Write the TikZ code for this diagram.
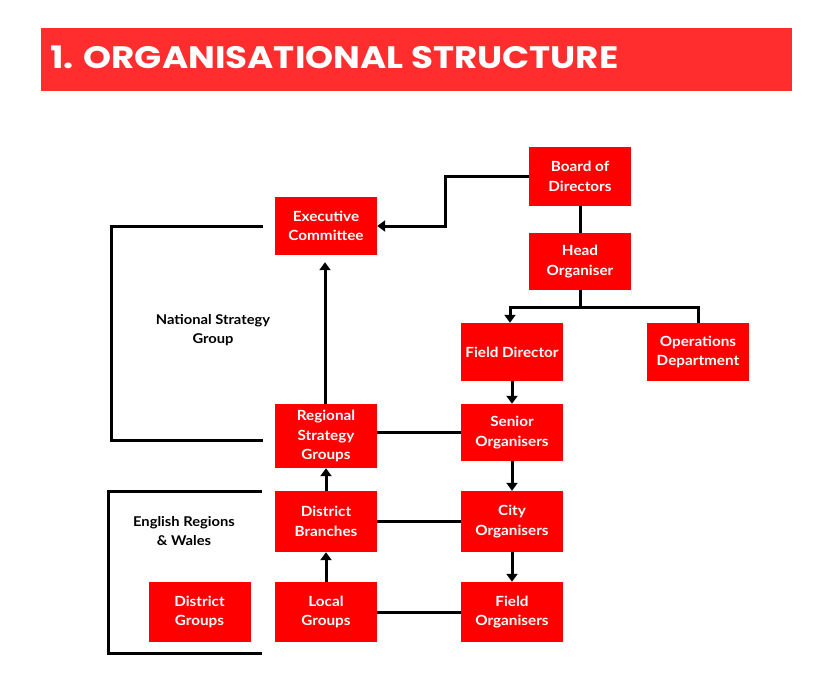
\documentclass[tikz,border=0pt]{standalone}
\usepackage{fontspec}
\setmainfont{Lato}[FakeStretch=1.09]
\newfontfamily\titlefont{Poppins}[FakeStretch=1.15]
\usetikzlibrary{arrows.meta}
\definecolor{banner}{RGB}{255,45,45}
\definecolor{boxred}{RGB}{255,0,0}
\tikzset{
  box/.style={fill=boxred, draw=none, minimum width=102pt, align=center, text=white,
    font=\fontsize{14}{19.5}\selectfont\bfseries, inner sep=0pt},
  lbl/.style={align=center, text=black, font=\fontsize{13.5}{19.5}\selectfont\bfseries},
  conn/.style={line width=3pt, draw=black},
  arr/.style={conn, -{Triangle[width=11pt,length=8pt]}},
}
\begin{document}
\begin{tikzpicture}[x=1pt,y=-1pt]
\useasboundingbox (0,0) rectangle (823,688);
\fill[white] (0,0) rectangle (823,688);
% title banner
\fill[banner] (41,28) rectangle (792,91);
\node[anchor=base west, inner sep=0pt, text=white, font=\titlefont\fontsize{31}{31}\selectfont\bfseries] (title) at (50,68) {1. ORGANISATIONAL STRUCTURE};
% nodes
\node[box, minimum height=59pt] (bod) at (580,176.5) {Board of\\Directors};
\node[box, minimum height=57pt] (head) at (580,261.5) {Head\\Organiser};
\node[box, minimum height=58pt] (exec) at (326,226) {Executive\\Committee};
\node[box, minimum height=58pt] (fd) at (512,352) {Field Director};
\node[box, minimum height=58pt] (ops) at (698,352) {Operations\\Department};
\node[box, minimum height=64pt] (rsg) at (326,436) {Regional\\Strategy\\Groups};
\node[box, minimum height=57pt] (so) at (512,432.5) {Senior\\Organisers};
\node[box, minimum height=61pt] (db) at (326,521.5) {District\\Branches};
\node[box, minimum height=61pt] (co) at (512,521.5) {City\\Organisers};
\node[box, minimum height=60pt] (dg) at (199.5,612) {District\\Groups};
\node[box, minimum height=60pt] (lg) at (326,612) {Local\\Groups};
\node[box, minimum height=60pt] (fo) at (512,612) {Field\\Organisers};
% labels
\node[lbl] (nsg) at (213,330) {National Strategy\\Group};
\node[lbl] (erw) at (184,531) {English Regions\\\& Wales};
% brackets
\coordinate (n1) at (263,226);
\coordinate (n2) at (111,226);
\coordinate (n3) at (111,440);
\coordinate (n4) at (263,440);
\draw[conn] (n1) -- (n2) -- (n3) -- (n4);
\coordinate (e1) at (262,491);
\coordinate (e2) at (108,491);
\coordinate (e3) at (108,653);
\coordinate (e4) at (262,653);
\draw[conn] (e1) -- (e2) -- (e3) -- (e4);
% connectors
\draw[arr] (bod.west) -- ++(-83,0) |- (exec.east);
\draw[conn] (bod.south) -- (head.north);
\draw[conn] (head.south) -- ++(0,17) coordinate (hb);
\draw[arr] (hb) -| ([xshift=-2pt]fd.north);
\draw[conn] (hb) -| (ops.north);
\draw[arr] (fd.south) -- (so.north);
\draw[arr] (so.south) -- (co.north);
\draw[arr] (co.south) -- (fo.north);
\draw[arr, shorten >=7pt] ([xshift=-1pt]rsg.north) -- ([xshift=-1pt]exec.south);
\draw[arr] (db.north) -- (rsg.south);
\draw[arr] (lg.north) -- (db.south);
\draw[conn] (rsg.east |- so.west) -- (so.west);
\draw[conn] (db.east) -- (co.west);
\draw[conn] (lg.east) -- (fo.west);
\end{tikzpicture}
\end{document}
